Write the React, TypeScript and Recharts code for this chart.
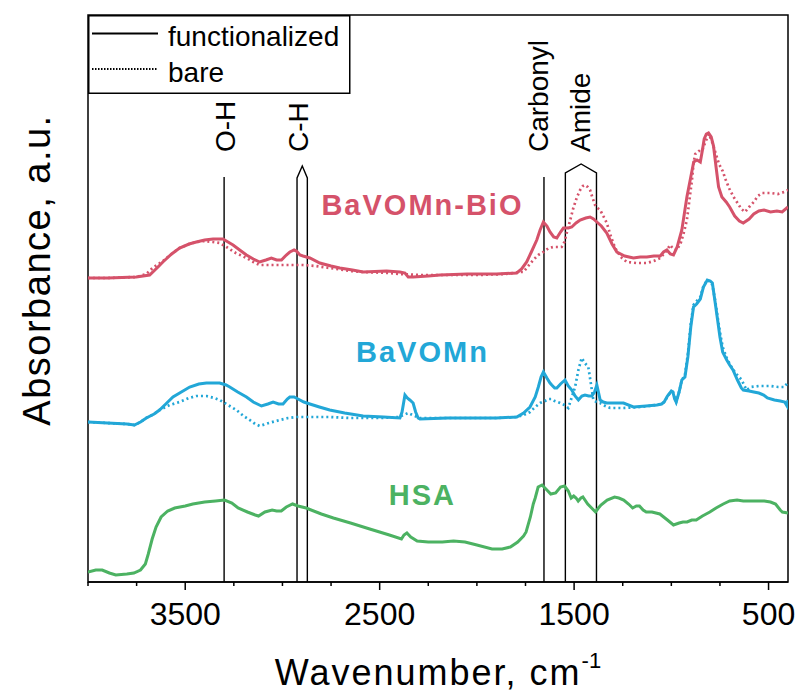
import React from 'react';
import { LineChart, Line, XAxis, YAxis, ReferenceLine, ReferenceArea, Legend, Label } from 'recharts';

type Pt = [number, number];

// Absorbance (arbitrary units, offset curves) vs wavenumber (cm^-1)
const bioFunctionalized: Pt[] = [
  [4000,304],[3900,304],[3752,305],[3683,307],[3640,315],[3615,320],[3570,328],[3529,334],[3480,338],[3443,340],[3400,342],[3357,343],[3306,343],[3280,340],[3254,337],[3220,332],[3185,327],[3150,323],[3117,320],[3085,322],[3057,324],[3030,322],[3005,322],[2980,327],[2962,330],[2940,332],[2928,331],[2910,327],[2894,326],[2859,324],[2808,319],[2750,316],[2705,314],[2640,312],[2585,310],[2465,311],[2396,310],[2370,309],[2353,305],[2328,305],[2250,306],[2190,307],[2050,308],[1900,308],[1795,309],[1770,313],[1744,320],[1720,330],[1692,342],[1675,352],[1658,360],[1640,356],[1624,350],[1605,345],[1589,344],[1570,350],[1555,354],[1530,354],[1512,355],[1490,359],[1469,362],[1440,364],[1418,365],[1400,363],[1383,360],[1360,356],[1332,349],[1305,338],[1280,330],[1240,326],[1195,324],[1160,325],[1126,325],[1090,326],[1057,326],[1040,330],[1023,332],[1005,328],[989,327],[970,335],[946,352],[920,385],[900,405],[885,420],[868,422],[851,420],[840,432],[831,443],[820,448],[809,449],[795,445],[783,436],[770,415],[757,395],[740,385],[718,380],[700,375],[674,366],[650,361],[630,359],[600,363],[576,368],[550,371],[523,372],[490,370],[457,371],[430,370],[400,375]
];
const bioBare: Pt[] = [
  [4000,304],[3900,304],[3752,305],[3700,308],[3668,314],[3615,321],[3570,328],[3529,334],[3480,338],[3443,340],[3400,341],[3357,340],[3323,339],[3288,335],[3240,329],[3185,324],[3150,320],[3117,317],[3060,317],[3014,317],[2950,317],[2894,317],[2830,316],[2757,314],[2650,311],[2585,310],[2450,309],[2396,308],[2300,307],[2190,307],[2000,307],[1850,308],[1778,310],[1761,310],[1740,315],[1710,322],[1685,327],[1658,330],[1630,334],[1607,335],[1585,335],[1564,335],[1550,340],[1538,349],[1520,362],[1504,374],[1485,385],[1469,392],[1455,396],[1444,397],[1430,395],[1418,392],[1405,384],[1392,377],[1380,374],[1366,372],[1350,366],[1332,359],[1310,345],[1289,334],[1260,325],[1229,320],[1180,319],[1126,319],[1090,321],[1057,324],[1030,330],[1006,337],[990,333],[971,332],[950,340],[935,350],[920,362],[905,385],[894,402],[885,420],[877,428],[860,431],[842,431],[825,440],[807,448],[790,440],[771,428],[755,418],[736,411],[720,402],[701,393],[680,385],[656,378],[640,373],[621,370],[600,375],[576,380],[555,386],[532,389],[490,389],[452,388],[420,390],[400,392]
];
const bavFunctionalized: Pt[] = [
  [4000,160],[3900,159],[3800,158],[3761,157],[3730,160],[3700,164],[3660,168],[3632,172],[3600,178],[3563,185],[3520,190],[3477,195],[3430,198],[3391,199],[3323,199],[3290,197],[3271,195],[3230,190],[3185,185],[3150,180],[3108,176],[3075,178],[3048,180],[3020,178],[2997,178],[2975,183],[2962,185],[2940,185],[2920,183],[2890,180],[2859,178],[2810,175],[2757,172],[2680,169],[2585,166],[2480,165],[2396,164],[2385,170],[2370,187],[2358,184],[2345,182],[2328,179],[2315,170],[2302,164],[2293,163],[2150,164],[2000,164],[1900,164],[1795,165],[1760,169],[1727,175],[1700,185],[1684,195],[1670,205],[1658,210],[1640,204],[1624,199],[1615,197],[1600,194],[1589,194],[1570,198],[1547,202],[1530,196],[1512,192],[1495,186],[1478,182],[1460,186],[1444,187],[1425,186],[1409,186],[1395,190],[1383,197],[1375,190],[1366,182],[1350,180],[1332,179],[1290,179],[1246,179],[1195,175],[1130,176],[1074,177],[1050,178],[1037,180],[1020,186],[1000,191],[992,190],[983,183],[975,180],[960,190],[946,202],[930,205],[915,225],[900,255],[886,275],[870,278],[851,283],[835,295],[815,302],[800,301],[789,299],[775,280],[762,262],[750,245],[736,230],[715,222],[700,217],[683,212],[660,202],[640,194],[630,192],[600,191],[576,190],[550,189],[525,187],[506,184],[470,182],[440,181],[417,180],[405,176],[400,182]
];
const bavBare: Pt[] = [
  [4000,160],[3900,159],[3800,158],[3761,157],[3730,160],[3700,164],[3660,168],[3632,172],[3580,177],[3529,180],[3480,184],[3443,186],[3391,186],[3350,184],[3323,182],[3280,177],[3237,172],[3200,166],[3168,162],[3140,158],[3117,156],[3070,159],[3014,162],[2970,164],[2928,165],[2850,165],[2757,165],[2650,164],[2499,164],[2400,165],[2353,169],[2320,166],[2293,164],[2100,164],[1900,164],[1795,165],[1760,167],[1727,170],[1700,175],[1675,179],[1650,181],[1630,183],[1615,183],[1600,181],[1572,179],[1550,177],[1530,174],[1515,183],[1495,195],[1478,212],[1461,224],[1445,219],[1427,215],[1415,200],[1401,182],[1385,180],[1366,179],[1340,176],[1315,174],[1280,174],[1246,174],[1160,175],[1074,177],[1050,178],[1037,180],[1015,187],[1000,190],[992,190],[975,180],[960,190],[946,202],[930,207],[915,228],[900,258],[886,277],[870,281],[851,285],[835,296],[815,302],[800,300],[789,297],[775,282],[762,265],[750,250],[736,235],[715,224],[697,217],[670,209],[638,202],[621,195],[612,192],[590,195],[550,196],[520,196],[488,196],[450,195],[417,195],[400,200]
];
const hsa: Pt[] = [
  [4000,10],[3960,12],[3927,12],[3890,9],[3857,7],[3800,8],[3764,9],[3730,12],[3705,18],[3690,28],[3670,43],[3650,55],[3624,65],[3590,71],[3554,74],[3500,76],[3461,78],[3400,80],[3344,81],[3298,82],[3260,79],[3228,74],[3180,70],[3140,67],[3123,66],[3090,70],[3053,72],[3030,71],[3006,71],[2980,75],[2948,78],[2920,76],[2878,74],[2800,68],[2738,64],[2650,59],[2551,53],[2450,47],[2388,43],[2375,47],[2360,49],[2340,45],[2307,41],[2250,40],[2178,40],[2120,41],[2061,40],[2000,37],[1922,33],[1870,33],[1828,35],[1790,40],[1760,46],[1747,50],[1725,65],[1710,78],[1700,84],[1685,95],[1665,97],[1640,92],[1620,88],[1595,89],[1570,95],[1549,96],[1530,91],[1515,84],[1502,86],[1490,84],[1479,81],[1465,84],[1455,85],[1430,78],[1410,74],[1390,70],[1375,74],[1362,77],[1330,82],[1292,85],[1270,84],[1245,82],[1220,78],[1199,74],[1180,76],[1164,76],[1145,72],[1129,70],[1100,70],[1059,68],[1020,62],[989,57],[960,59],[940,60],[919,60],[895,62],[872,62],[840,66],[802,70],[770,74],[733,78],[700,81],[662,82],[630,81],[592,81],[550,81],[522,81],[490,80],[464,78],[440,72],[429,70],[400,69]
];

// band markers (wavenumber, height) and their labels
const ohMarker: Pt[] = [[3300,0],[3300,405]];
const chMarker: Pt[] = [[2925,0],[2925,404],[2898,416],[2872,404],[2872,0]];
const carbonylMarker: Pt[] = [[1655,0],[1655,405]];
const amideMarker: Pt[] = [[1545,0],[1545,409],[1464,418],[1385,409],[1385,0]];
const markerLabels = ['O-H', 'C-H', 'Carbonyl', 'Amide'];
const markerLabelPos: Pt[] = [[3246,430],[2870,430],[1634,430],[1418,430]];

const seriesNames = ['BaVOMn-BiO', 'BaVOMn', 'HSA'];
const seriesNamePos: Pt[] = [[2280,367],[2280,220],[2280,77]];

const xTicks = [4000,3750,3500,3250,3000,2750,2500,2250,2000,1750,1500,1250,1000,750,500];
const xTickLabels = [3500, 2500, 1500, 500];

const RED = '#D5526A';
const BLUE = '#22A7D7';
const GREEN = '#4CB262';
const FONT = '"Liberation Sans", Arial, Helvetica, sans-serif';

const rows = (pts: Pt[]) => pts.map(([wn, a]) => ({ wn, a }));

const XTick = (props: any) => {
  const { x, y, payload } = props;
  const major = xTickLabels.includes(payload.value);
  return (
    <g>
      <line x1={x} x2={x} y1={y} y2={y + (major ? 8 : 4)} stroke="#000" strokeWidth={1.5} />
      {major && (
        <text x={x} y={y + 43} textAnchor="middle" fontSize={32} fontFamily={FONT} fill="#000">
          {payload.value}
        </text>
      )}
    </g>
  );
};

const rotLabel = (text: string) => (p: any) => {
  const vb = p.viewBox || {};
  return (
    <text x={vb.x} y={vb.y} transform={`rotate(-90 ${vb.x} ${vb.y})`} fontSize={28} fontFamily={FONT} fill="#000" textAnchor="start">
      {text}
    </text>
  );
};

const nameLabel = (text: string, color: string) => (p: any) => {
  const vb = p.viewBox || {};
  return (
    <text x={vb.x} y={vb.y} textAnchor="middle" fontSize={29} fontWeight="bold" letterSpacing={2} fontFamily={FONT} fill={color}>
      {text}
    </text>
  );
};

const renderLegend = () => (
  <svg width={263} height={80} style={{ display: 'block' }}>
    <rect x={0.75} y={0.75} width={261} height={77.5} fill="#fff" stroke="#000" strokeWidth={1.5} />
    <line x1={4} x2={70} y1={18.5} y2={18.5} stroke="#000" strokeWidth={2} />
    <text x={80} y={31} fontSize={28} fontFamily={FONT} fill="#000">functionalized</text>
    <line x1={4} x2={70} y1={54} y2={54} stroke="#000" strokeWidth={2} strokeDasharray="1.5 1.5" />
    <text x={80} y={66.5} fontSize={28} fontFamily={FONT} fill="#000">bare</text>
  </svg>
);

const YTitle = (p: any) => {
  const vb = p.viewBox || { x: 0, y: 15 };
  const cx = vb.x + 50;
  const cy = vb.y + 255;
  return (
    <text x={cx} y={cy} transform={`rotate(-90 ${cx} ${cy})`} textAnchor="middle" fontSize={38} letterSpacing={1.5} fontFamily={FONT} fill="#000">
      Absorbance, a.u.
    </text>
  );
};

export default function App() {
  const nameColors = [RED, BLUE, GREEN];
  return (
    <div style={{ position: 'absolute', left: 0, top: 0 }}>
      <LineChart width={798} height={693} margin={{ top: 15, right: 10, bottom: 0, left: 0 }}>
        <XAxis
          dataKey="wn"
          type="number"
          domain={[400, 4000]}
          reversed
          allowDataOverflow
          ticks={xTicks}
          interval={0}
          height={111}
          tickSize={0}
          tickMargin={0}
          tickLine={false}
          axisLine={{ stroke: '#000', strokeWidth: 1.5 }}
          tick={<XTick />}
        >
          <Label
            content={(p: any) => {
              const vb = p.viewBox || {};
              return (
                <text x={vb.x + vb.width / 2} y={vb.y + 103} textAnchor="middle" fontSize={36} letterSpacing={2} fontFamily={FONT} fill="#000">
                  <tspan>Wavenumber, cm</tspan>
                  <tspan fontSize={22} dy={-17} letterSpacing={0}>-1</tspan>
                </text>
              );
            }}
          />
        </XAxis>
        <YAxis domain={[0, 567]} width={88} tick={false} tickLine={false} axisLine={false} allowDataOverflow label={<YTitle />} />
        <ReferenceArea x1={4000} x2={400} y1={0} y2={567} fill="none" stroke="#000" strokeWidth={1.5} />
        <Legend content={renderLegend} layout="horizontal" verticalAlign="middle" align="center" wrapperStyle={{ left: 88, top: 15, width: 263, height: 80 }} />

        {[ohMarker, chMarker, carbonylMarker, amideMarker].map((m, i) => (
          <Line key={'m' + i} data={rows(m)} dataKey="a" stroke="#000" strokeWidth={1.4} dot={false} isAnimationActive={false} legendType="none" />
        ))}

        <Line data={rows(bioBare)} dataKey="a" stroke={RED} strokeWidth={2.7} strokeDasharray="2 3" dot={false} isAnimationActive={false} />
        <Line data={rows(bavBare)} dataKey="a" stroke={BLUE} strokeWidth={2.7} strokeDasharray="2 3" dot={false} isAnimationActive={false} />
        <Line data={rows(bioFunctionalized)} dataKey="a" stroke={RED} strokeWidth={3} dot={false} isAnimationActive={false} />
        <Line data={rows(bavFunctionalized)} dataKey="a" stroke={BLUE} strokeWidth={3} dot={false} isAnimationActive={false} />
        <Line data={rows(hsa)} dataKey="a" stroke={GREEN} strokeWidth={3} dot={false} isAnimationActive={false} />

        {markerLabels.map((t, i) => (
          <ReferenceLine
            key={'ml' + i}
            segment={[{ x: markerLabelPos[i][0], y: markerLabelPos[i][1] }, { x: markerLabelPos[i][0], y: markerLabelPos[i][1] }]}
            stroke="none"
            label={rotLabel(t)}
          />
        ))}
        {seriesNames.map((t, i) => (
          <ReferenceLine
            key={'sn' + i}
            segment={[{ x: seriesNamePos[i][0], y: seriesNamePos[i][1] }, { x: seriesNamePos[i][0], y: seriesNamePos[i][1] }]}
            stroke="none"
            label={nameLabel(t, nameColors[i])}
          />
        ))}
      </LineChart>
    </div>
  );
}
